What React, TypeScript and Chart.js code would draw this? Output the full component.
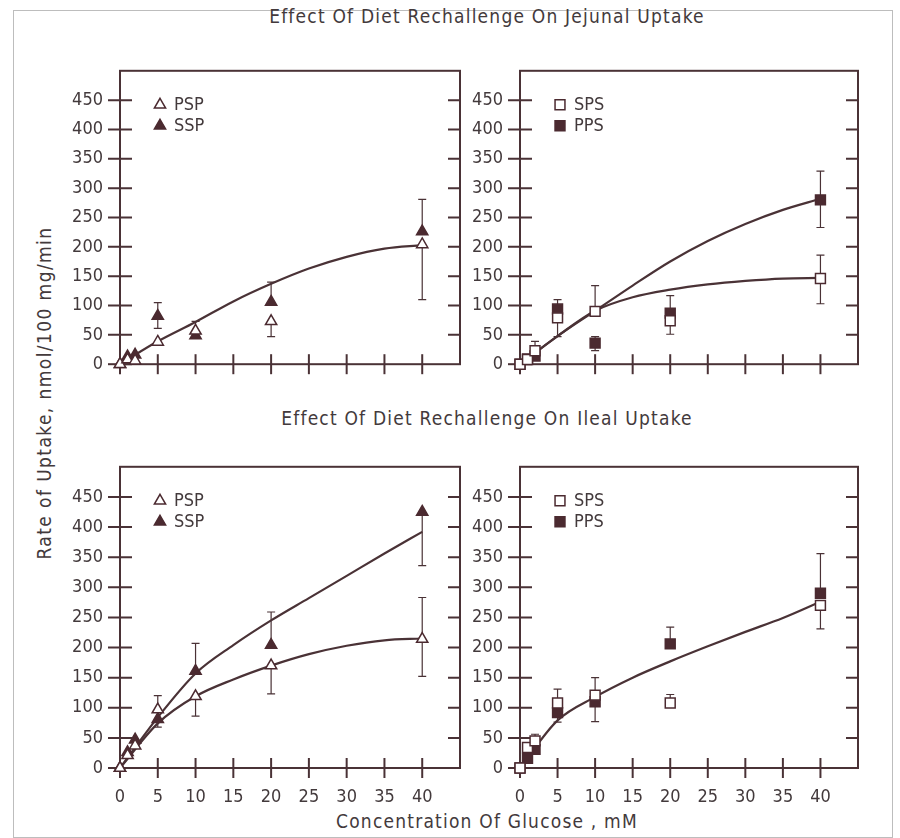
import React, { useEffect, useRef } from 'react';
import { Chart, registerables } from 'chart.js';

Chart.register(...registerables);

// ---------- data ----------
const conc = [0, 1, 2, 5, 10, 20, 40];
const fitX = [0, 5, 10, 15, 20, 25, 30, 35, 40];
const yTickMax = 450;

// Jejunal, left panel (PSP / SSP)
const jejPSP = [0, 8, 6, 38, 57, 73, 204];
const jejPSPUp = [null, null, null, null, 73, null, null];
const jejPSPLow = [null, null, null, null, null, 47, 110];
const jejSSP = [0, 13, 16, 82, 49, 106, 226];
const jejSSPUp = [null, null, null, 105, null, 140, 281];
const jejSSPLow = [null, null, null, 61, null, null, null];
const jejLeftFit = [0, 39, 72, 107, 137, 163, 183, 197, 203];

// Jejunal, right panel (SPS / PPS)
const jejSPS = [0, 8, 23, 79, 90, 74, 146];
const jejSPSUp = [null, null, 39, null, 134, null, 186];
const jejSPSLow = [null, null, null, 47, null, 51, 103];
const jejPPS = [0, 9, 14, 94, 36, 87, 280];
const jejPPSUp = [null, null, null, 110, 47, 117, 329];
const jejPPSLow = [null, null, null, null, 23, null, 233];
const jejPPSFit = [0, 48, 91, 134, 175, 210, 239, 263, 282];
const jejSPSFit = [0, 48, 91, 114, 127, 136, 142, 146, 147];

// Ileal, left panel (PSP / SSP)
const ilePSP = [0, 21, 37, 97, 119, 170, 214];
const ilePSPUp = [null, null, null, 120, null, null, 283];
const ilePSPLow = [null, null, null, null, 86, 123, 152];
const ileSSP = [0, 26, 47, 81, 161, 204, 425];
const ileSSPUp = [null, null, null, null, 207, 259, null];
const ileSSPLow = [null, null, null, 68, null, null, 336];
const ileSSPFit = [0, 84, 157, 204, 245, 282, 319, 356, 392];
const ilePSPFit = [0, 74, 119, 147, 170, 189, 203, 212, 215];

// Ileal, right panel (SPS / PPS)
const ileSPS = [0, 34, 45, 108, 121, 108, 270];
const ileSPSUp = [null, null, null, 131, 150, 122, null];
const ileSPSLow = [null, null, null, null, null, null, 231];
const ilePPS = [0, 16, 31, 92, 110, 206, 290];
const ilePPSUp = [null, null, 56, null, null, 234, 356];
const ilePPSLow = [null, null, null, 76, 77, null, null];
const ileRightFit = [0, 79, 118, 150, 177, 202, 226, 249, 276];

// ---------- style ----------
const FONT = "'Liberation Sans Narrow', 'DejaVu Sans Condensed', 'Liberation Sans', sans-serif";
const INK = '#4a3236';
const TEXT = '#433a3c';
const MARK = '#4b2a30';

type Series = {
  label: string;
  y: number[];
  up: (number | null)[];
  low: (number | null)[];
  filled: boolean;
  style: 'triangle' | 'rect';
};

type PanelCfg = {
  series: Series[];
  fits: number[][];
  showX: boolean;
};

function drawMarker(ctx: CanvasRenderingContext2D, style: string, x: number, y: number, r: number, filled: boolean) {
  ctx.beginPath();
  if (style === 'triangle') {
    let rad = 0;
    ctx.moveTo(x + Math.sin(rad) * r, y - Math.cos(rad) * r);
    rad += (2 * Math.PI) / 3;
    ctx.lineTo(x + Math.sin(rad) * r, y - Math.cos(rad) * r);
    rad += (2 * Math.PI) / 3;
    ctx.lineTo(x + Math.sin(rad) * r, y - Math.cos(rad) * r);
    ctx.closePath();
  } else {
    const s = Math.SQRT1_2 * r;
    ctx.rect(x - s, y - s, 2 * s, 2 * s);
  }
  ctx.fillStyle = filled ? MARK : '#ffffff';
  ctx.fill();
  ctx.strokeStyle = MARK;
  ctx.lineWidth = 1.5;
  ctx.stroke();
}

function makePlugin(cfg: PanelCfg) {
  return {
    id: 'panelDecor',
    beforeDatasetsDraw(chart: any) {
      const { ctx, chartArea: a, scales } = chart;
      const xs = scales.x;
      const ys = scales.y;
      ctx.save();
      ctx.strokeStyle = INK;
      ctx.lineWidth = 2;
      ctx.lineCap = 'butt';
      // frame
      ctx.strokeRect(a.left, a.top, a.right - a.left, a.bottom - a.top);
      // y ticks
      ys.ticks.forEach((t: any) => {
        if (t.value > yTickMax) return;
        const py = ys.getPixelForValue(t.value);
        ctx.beginPath();
        ctx.moveTo(a.left - 12, py);
        ctx.lineTo(a.left + 12, py);
        if (t.value > 0) {
          ctx.moveTo(a.right - 12, py);
          ctx.lineTo(a.right, py);
        }
        ctx.stroke();
      });
      // x ticks
      xs.ticks.forEach((t: any) => {
        if (t.value > 40) return;
        const px = xs.getPixelForValue(t.value);
        ctx.beginPath();
        ctx.moveTo(px, a.bottom - 10);
        ctx.lineTo(px, a.bottom + 10);
        ctx.stroke();
      });
      // error bars
      ctx.lineWidth = 1.2;
      cfg.series.forEach((s) => {
        conc.forEach((c, i) => {
          const px = xs.getPixelForValue(c);
          const py = ys.getPixelForValue(s.y[i]);
          [s.up[i], s.low[i]].forEach((e) => {
            if (e === null || e === undefined) return;
            const pe = ys.getPixelForValue(e);
            ctx.beginPath();
            ctx.moveTo(px, py);
            ctx.lineTo(px, pe);
            ctx.moveTo(px - 4, pe);
            ctx.lineTo(px + 4, pe);
            ctx.stroke();
          });
        });
      });
      ctx.restore();
    },
    afterDraw(chart: any) {
      const { ctx, chartArea: a } = chart;
      ctx.save();
      cfg.series.forEach((s, k) => {
        const y = a.top + 34 + k * 21;
        drawMarker(ctx, s.style, a.left + 40, y, s.style === 'triangle' ? 6.5 : 7, s.filled);
        ctx.fillStyle = TEXT;
        ctx.font = `18px ${FONT}`;
        ctx.textBaseline = 'middle';
        ctx.textAlign = 'left';
        ctx.fillText(s.label, a.left + 54, y + 1);
      });
      ctx.restore();
    },
  };
}

function Panel({ cfg, left, top, width, height }: { cfg: PanelCfg; left: number; top: number; width: number; height: number }) {
  const ref = useRef<HTMLCanvasElement>(null);
  useEffect(() => {
    const datasets: any[] = [];
    cfg.fits.forEach((f) => {
      datasets.push({
        type: 'line',
        data: fitX.map((x, i) => ({ x, y: f[i] })),
        borderColor: INK,
        borderWidth: 2.2,
        pointRadius: 0,
        fill: false,
        cubicInterpolationMode: 'monotone',
        clip: false,
        order: 2,
      });
    });
    cfg.series.forEach((s) => {
      datasets.push({
        type: 'scatter',
        label: s.label,
        data: conc.map((x, i) => ({ x, y: s.y[i] })),
        pointStyle: s.style,
        pointRadius: s.style === 'triangle' ? 6.5 : 7,
        pointBackgroundColor: s.filled ? MARK : '#ffffff',
        pointBorderColor: MARK,
        pointBorderWidth: 1.5,
        showLine: false,
        clip: false,
        order: 1,
      });
    });
    const chart = new Chart(ref.current!, {
      type: 'scatter',
      data: { datasets },
      plugins: [makePlugin(cfg) as any],
      options: {
        animation: false,
        responsive: false,
        maintainAspectRatio: false,
        devicePixelRatio: 1,
        layout: { padding: { left: 0, top: 10, right: 10, bottom: 0 } },
        plugins: { legend: { display: false }, tooltip: { enabled: false }, title: { display: false } },
        scales: {
          x: {
            type: 'linear',
            min: 0,
            max: 45,
            grid: { display: false, drawTicks: false },
            border: { display: false },
            ticks: {
              display: cfg.showX,
              stepSize: 5,
              padding: 19,
              color: TEXT,
              font: { family: FONT, size: 18 },
              maxRotation: 0,
              autoSkip: false,
              callback: (v: any) => (Number(v) > 40 ? '' : String(v)),
            },
            afterFit: (s: any) => {
              s.height = cfg.showX ? 50 : 20;
              s.paddingLeft = 0;
              s.paddingRight = 0;
            },
          },
          y: {
            type: 'linear',
            min: 0,
            max: 500,
            grid: { display: false, drawTicks: false },
            border: { display: false },
            ticks: {
              stepSize: 50,
              padding: 17,
              color: TEXT,
              font: { family: FONT, size: 18 },
              autoSkip: false,
              callback: (v: any) => (Number(v) > yTickMax ? '' : String(v)),
            },
            afterFit: (s: any) => {
              s.width = 70;
            },
          },
        },
      } as any,
    });
    return () => chart.destroy();
  }, []);
  return (
    <canvas
      ref={ref}
      width={width}
      height={height}
      style={{ position: 'absolute', left, top, width, height }}
    />
  );
}

const panelTL: PanelCfg = {
  series: [
    { label: 'PSP', y: jejPSP, up: jejPSPUp, low: jejPSPLow, filled: false, style: 'triangle' },
    { label: 'SSP', y: jejSSP, up: jejSSPUp, low: jejSSPLow, filled: true, style: 'triangle' },
  ],
  fits: [jejLeftFit],
  showX: false,
};
const panelTR: PanelCfg = {
  series: [
    { label: 'SPS', y: jejSPS, up: jejSPSUp, low: jejSPSLow, filled: false, style: 'rect' },
    { label: 'PPS', y: jejPPS, up: jejPPSUp, low: jejPPSLow, filled: true, style: 'rect' },
  ],
  fits: [jejPPSFit, jejSPSFit],
  showX: false,
};
const panelBL: PanelCfg = {
  series: [
    { label: 'PSP', y: ilePSP, up: ilePSPUp, low: ilePSPLow, filled: false, style: 'triangle' },
    { label: 'SSP', y: ileSSP, up: ileSSPUp, low: ileSSPLow, filled: true, style: 'triangle' },
  ],
  fits: [ileSSPFit, ilePSPFit],
  showX: true,
};
const panelBR: PanelCfg = {
  series: [
    { label: 'SPS', y: ileSPS, up: ileSPSUp, low: ileSPSLow, filled: false, style: 'rect' },
    { label: 'PPS', y: ilePPS, up: ilePPSUp, low: ilePPSLow, filled: true, style: 'rect' },
  ],
  fits: [ileRightFit],
  showX: true,
};

const textStyle: React.CSSProperties = {
  position: 'absolute',
  fontFamily: FONT,
  color: TEXT,
  fontSize: 19,
  letterSpacing: 1.2,
  whiteSpace: 'nowrap',
  lineHeight: '22px',
};

export default function App() {
  return (
    <div style={{ position: 'absolute', left: 0, top: 0, width: 900, height: 838, background: '#ffffff', overflow: 'hidden' }}>
      <div style={{ position: 'absolute', left: 13, top: 10, width: 878, height: 826, border: '1px solid #bdbdbd' }} />
      <div style={{ ...textStyle, left: 187, width: 600, top: 5, textAlign: 'center' }}>
        Effect Of Diet Rechallenge On Jejunal Uptake
      </div>
      <div style={{ ...textStyle, left: 187, width: 600, top: 407, textAlign: 'center' }}>
        Effect Of Diet Rechallenge On Ileal Uptake
      </div>
      <div style={{ ...textStyle, left: 187, width: 600, top: 810, textAlign: 'center' }}>
        Concentration Of Glucose , mM
      </div>
      <div
        style={{
          ...textStyle,
          letterSpacing: 1.4,
          left: 44 - 250,
          top: 393 - 11,
          width: 500,
          textAlign: 'center',
          transform: 'rotate(-90deg)',
          transformOrigin: '250px 11px',
        }}
      >
        Rate of Uptake, nmol/100 mg/min
      </div>
      <Panel cfg={panelTL} left={50} top={43} width={420} height={349} />
      <Panel cfg={panelTR} left={450} top={43} width={418} height={349} />
      <Panel cfg={panelBL} left={50} top={439} width={420} height={379} />
      <Panel cfg={panelBR} left={450} top={439} width={418} height={379} />
    </div>
  );
}
